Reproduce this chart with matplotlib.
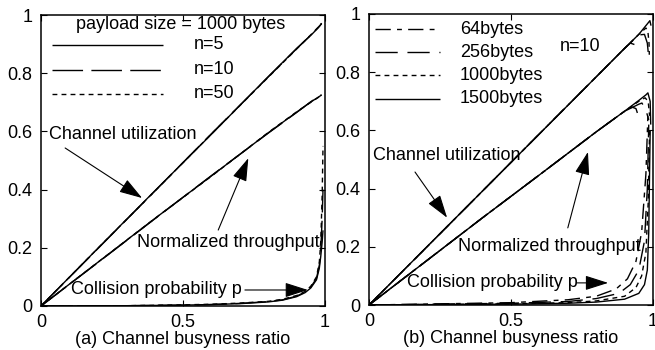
import numpy as np
import matplotlib
matplotlib.use("Agg")
import matplotlib.pyplot as plt

plt.rcParams['font.family'] = ['Liberation Sans', 'DejaVu Sans']
plt.rcParams['font.size'] = 13
plt.rcParams['lines.scale_dashes'] = False

#########################
##   dados lidos       ##
#########################

# (a) payload 1000 bytes, n = 5, 10, 50
busy_a = [0, 0.2, 0.4, 0.6, 0.8, 0.9, 0.95, 0.98, 0.988]
util_a = {
    "n=5":  [0, 0.198, 0.395, 0.59, 0.788, 0.885, 0.93, 0.96, 0.971],
    "n=10": [0, 0.197, 0.394, 0.592, 0.787, 0.884, 0.931, 0.962, 0.97],
    "n=50": [0, 0.198, 0.394, 0.591, 0.786, 0.883, 0.932, 0.961, 0.972],
}
thr_a = {
    "n=5":  [0, 0.15, 0.3, 0.447, 0.595, 0.666, 0.701, 0.72, 0.725],
    "n=10": [0, 0.149, 0.299, 0.448, 0.594, 0.665, 0.702, 0.721, 0.726],
    "n=50": [0, 0.15, 0.3, 0.446, 0.596, 0.667, 0.7, 0.719, 0.724],
}
busy_pa = [0, 0.3, 0.5, 0.6, 0.7, 0.8, 0.85, 0.9, 0.93, 0.95, 0.97, 0.98, 0.985, 0.99, 0.993]
coll_a = {
    "n=5":  [0, 0.001, 0.003, 0.005, 0.008, 0.014, 0.02, 0.032, 0.046, 0.062, 0.09, 0.13, 0.17, 0.22, 0.26],
    "n=10": [0, 0.001, 0.003, 0.005, 0.009, 0.015, 0.021, 0.034, 0.048, 0.065, 0.095, 0.14, 0.19, 0.3, 0.4],
    "n=50": [0, 0.001, 0.004, 0.006, 0.01, 0.016, 0.023, 0.036, 0.05, 0.068, 0.1, 0.15, 0.22, 0.38, 0.55],
}

# (b) n = 10, payloads 64..1500 bytes
sizes_b = ["64bytes", "256bytes", "1000bytes", "1500bytes"]
busy_ub = {
    "64bytes":   [0, 0.2, 0.4, 0.6, 0.8, 0.9, 0.92, 0.935, 0.94],
    "256bytes":  [0, 0.2, 0.4, 0.6, 0.8, 0.9, 0.95, 0.97, 0.98, 0.985],
    "1000bytes": [0, 0.2, 0.4, 0.6, 0.8, 0.9, 0.95, 0.975, 0.982, 0.986, 0.987],
    "1500bytes": [0, 0.2, 0.4, 0.6, 0.8, 0.9, 0.95, 0.98, 0.989, 0.993],
}
util_b = {
    "64bytes":   [0, 0.196, 0.392, 0.588, 0.784, 0.882, 0.9, 0.895, 0.875],
    "256bytes":  [0, 0.196, 0.392, 0.588, 0.784, 0.882, 0.928, 0.93, 0.9, 0.85],
    "1000bytes": [0, 0.196, 0.392, 0.588, 0.784, 0.882, 0.93, 0.952, 0.94, 0.9, 0.86],
    "1500bytes": [0, 0.196, 0.392, 0.588, 0.784, 0.882, 0.93, 0.966, 0.977, 0.96],
}
busy_tb = {
    "64bytes":   [0, 0.2, 0.4, 0.6, 0.8, 0.9, 0.926, 0.94, 0.945],
    "256bytes":  [0, 0.2, 0.4, 0.6, 0.8, 0.9, 0.95, 0.961, 0.975, 0.985],
    "1000bytes": [0, 0.2, 0.4, 0.6, 0.8, 0.9, 0.95, 0.972, 0.983, 0.988],
    "1500bytes": [0, 0.2, 0.4, 0.6, 0.8, 0.9, 0.95, 0.975, 0.982, 0.99, 0.992],
}
thr_b = {
    "64bytes":   [0, 0.15, 0.3, 0.447, 0.595, 0.666, 0.68, 0.675, 0.66],
    "256bytes":  [0, 0.15, 0.3, 0.447, 0.595, 0.666, 0.69, 0.694, 0.67, 0.636],
    "1000bytes": [0, 0.15, 0.3, 0.447, 0.595, 0.666, 0.7, 0.712, 0.7, 0.65],
    "1500bytes": [0, 0.15, 0.3, 0.447, 0.595, 0.666, 0.703, 0.722, 0.729, 0.7, 0.62],
}
busy_pb = {
    "64bytes":   [0, 0.5, 0.7, 0.8, 0.87, 0.91, 0.94, 0.96, 0.975, 0.982],
    "256bytes":  [0, 0.5, 0.7, 0.8, 0.88, 0.92, 0.95, 0.97, 0.98, 0.985],
    "1000bytes": [0, 0.5, 0.7, 0.8, 0.9, 0.94, 0.96, 0.975, 0.983, 0.988],
    "1500bytes": [0, 0.5, 0.7, 0.8, 0.9, 0.95, 0.97, 0.98, 0.985, 0.99],
}
coll_b = {
    "64bytes":   [0, 0.008, 0.018, 0.03, 0.055, 0.09, 0.15, 0.25, 0.45, 0.65],
    "256bytes":  [0, 0.006, 0.012, 0.022, 0.04, 0.07, 0.12, 0.22, 0.4, 0.62],
    "1000bytes": [0, 0.004, 0.008, 0.014, 0.03, 0.06, 0.1, 0.18, 0.35, 0.6],
    "1500bytes": [0, 0.003, 0.006, 0.01, 0.02, 0.04, 0.07, 0.12, 0.25, 0.6],
}

estilo_a = {"n=5": (0, ()), "n=10": (0, (22, 6)), "n=50": (0, (3.5, 3))}
estilo_b = {"64bytes": (0, (11, 4.5, 3.5, 4.5)), "256bytes": (0, (16, 7)),
            "1000bytes": (0, (3.5, 3)), "1500bytes": (0, ())}

lw = 1.0
seta = dict(arrowstyle='-|>,head_length=1.1,head_width=0.35', color='black', lw=0.8,
            shrinkA=0, shrinkB=0)


def eixo(ax, xlabel):
    ax.set_xlim(0, 1)
    ax.set_ylim(0, 1)
    ax.set_xticks([0, 0.5, 1])
    ax.set_xticklabels(['0', '0.5', '1'])
    ax.set_yticks([0, 0.2, 0.4, 0.6, 0.8, 1])
    ax.set_yticklabels(['0', '0.2', '0.4', '0.6', '0.8', '1'])
    ax.tick_params(direction='in', top=True, right=True, length=4, width=0.8, pad=6)
    for s in ax.spines.values():
        s.set_linewidth(1.1)
    ax.set_xlabel(xlabel, labelpad=0)


fig = plt.figure(figsize=(6.55, 3.5), dpi=100)
ax1 = fig.add_axes([41 / 655, 44 / 350, 284 / 655, 291 / 350])
ax2 = fig.add_axes([369 / 655, 45 / 350, 284 / 655, 291 / 350])

######################## (a)
for k in ["n=5", "n=10", "n=50"]:
    ls = estilo_a[k]
    ax1.plot(busy_a, util_a[k], color='black', linestyle=ls, lw=lw)
    ax1.plot(busy_a, thr_a[k], color='black', linestyle=ls, lw=lw)
    ax1.plot(busy_pa, coll_a[k], color='black', linestyle=ls, lw=lw)

ax1.text(0.49, 0.966, 'payload size = 1000 bytes', ha='center', va='center')
yl = [0.897, 0.811, 0.729]
for k, y in zip(["n=5", "n=10", "n=50"], yl):
    ax1.plot([0.039, 0.43], [y, y], color='black', linestyle=estilo_a[k], lw=lw)
    ax1.text(0.539, y, k, ha='left', va='center')

ax1.text(0.028, 0.588, 'Channel utilization', ha='left', va='center')
ax1.annotate('', xy=(0.356, 0.371), xytext=(0.085, 0.543), arrowprops=seta)
ax1.text(0.338, 0.217, 'Normalized throughput', ha='left', va='center')
ax1.annotate('', xy=(0.73, 0.508), xytext=(0.624, 0.261), arrowprops=seta)
ax1.text(0.105, 0.055, 'Collision probability p', ha='left', va='center')
ax1.annotate('', xy=(0.94, 0.055), xytext=(0.718, 0.055), arrowprops=seta)
eixo(ax1, '(a) Channel busyness ratio')

######################## (b)
for k in sizes_b:
    ls = estilo_b[k]
    ax2.plot(busy_ub[k], util_b[k], color='black', linestyle=ls, lw=lw)
    ax2.plot(busy_tb[k], thr_b[k], color='black', linestyle=ls, lw=lw)
    ax2.plot(busy_pb[k], coll_b[k], color='black', linestyle=ls, lw=lw)

yl = [0.948, 0.869, 0.79, 0.708]
for k, y in zip(sizes_b, yl):
    ax2.plot([0.021, 0.25], [y, y], color='black', linestyle=estilo_b[k], lw=lw)
    ax2.text(0.32, y, k, ha='left', va='center')
ax2.text(0.672, 0.887, 'n=10', ha='left', va='center')

ax2.text(0.014, 0.515, 'Channel utilization', ha='left', va='center')
ax2.annotate('', xy=(0.275, 0.30), xytext=(0.162, 0.457), arrowprops=seta)
ax2.text(0.313, 0.2, 'Normalized throughput', ha='left', va='center')
ax2.annotate('', xy=(0.771, 0.526), xytext=(0.70, 0.265), arrowprops=seta)
ax2.text(0.134, 0.076, 'Collision probability p', ha='left', va='center')
ax2.annotate('', xy=(0.842, 0.076), xytext=(0.732, 0.076), arrowprops=seta)
eixo(ax2, '(b) Channel busyness ratio')

plt.savefig('out.png', dpi=100)
